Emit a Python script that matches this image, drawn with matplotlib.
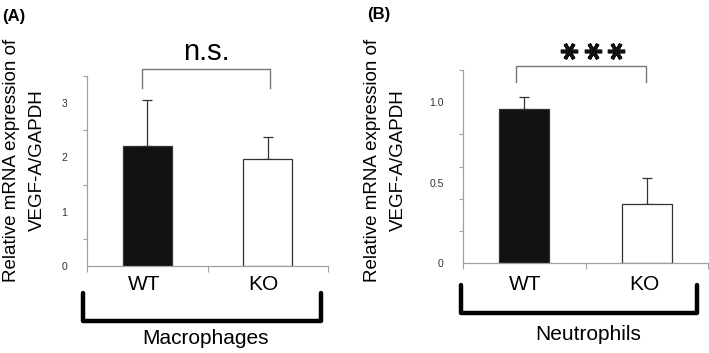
import matplotlib
matplotlib.use("Agg")
import matplotlib.pyplot as plt
import numpy as np

plt.rcParams['font.family'] = ['Liberation Sans', 'DejaVu Sans']

groups = ["WT", "KO"]
mac_means = [2.21, 1.97]
mac_err = [0.85, 0.41]
neu_means = [0.96, 0.37]
neu_err = [0.07, 0.16]
bar_colors = ["#111111", "#ffffff"]

W, H = 709, 353
fig = plt.figure(figsize=(W / 100, H / 100), dpi=100)

def fx(px):
    return px / W

def fy(py):
    return 1 - py / H

def make_ax(l, r, b, t):
    return fig.add_axes([fx(l), fy(b), fx(r) - fx(l), fy(t) - fy(b)])

axA = make_ax(87, 328, 265.7, 76.3)
axB = make_ax(463, 708, 263.3, 70)

spine_c = "#a0a0a0"

def style(ax, ymax, major, minor, labels):
    ax.set_xlim(-0.5, 1.5)
    ax.set_ylim(0, ymax)
    for s in ["top", "right"]:
        ax.spines[s].set_visible(False)
    for s in ["left", "bottom"]:
        ax.spines[s].set_color(spine_c)
        ax.spines[s].set_linewidth(0.9)
    ax.set_yticks(major)
    ax.set_yticklabels(labels)
    ax.set_yticks(minor, minor=True)
    ax.tick_params(axis="y", which="major", length=0, pad=14, labelsize=7.5, labelcolor="#333333")
    ax.tick_params(axis="y", which="minor", length=3, width=0.8, color=spine_c, direction="out")
    ax.set_xticks([-0.5, 0.5, 1.5])
    ax.set_xticklabels([])
    ax.tick_params(axis="x", length=4, width=0.8, color=spine_c, direction="out")

def bars(ax, means, errs):
    x = np.arange(len(means))
    ax.bar(x, means, width=0.41, color=bar_colors, edgecolor="#333333", linewidth=0.9, zorder=2)
    ax.errorbar(x, means, yerr=[np.zeros(len(errs)), errs], fmt="none", ecolor="#333333",
                elinewidth=0.9, capsize=3.5, capthick=0.9, zorder=1)

style(axA, 3.5, [0, 1, 2, 3], np.arange(0, 3.51, 0.5), ["0", "1", "2", "3"])
style(axB, 1.2, [0, 0.5, 1.0], np.arange(0, 1.21, 0.2), ["0", "0.5", "1.0"])
bars(axA, mac_means, mac_err)
bars(axB, neu_means, neu_err)

# significance brackets (data coords)
def bracket(ax, x0, x1, ylo, yhi):
    ax.plot([x0, x0, x1, x1], [ylo, yhi, yhi, ylo], color="#777777", lw=1.0,
            clip_on=False, solid_joinstyle="round")

bracket(axA, -0.04, 1.02, 3.285, 3.636)
axA.text(0.49, 3.94, "n.s.", ha="center", va="center", fontsize=21, clip_on=False)

bracket(axB, -0.065, 0.996, 1.127, 1.226)
star_x = [0.368, 0.564, 0.751]
axB.plot(star_x, [1.319] * 3, linestyle="none", marker=(6, 2, 90), markersize=12.5,
         markeredgewidth=2.6, color="#111111", clip_on=False)

# group labels
for ax, xs, y in [(axA, [144, 263], 285), (axB, [525, 644], 285)]:
    for g, x in zip(groups, xs):
        fig.text(fx(x), fy(y), g, ha="center", va="center", fontsize=15)

# big brackets
def big_bracket(l, r, t, b):
    fig.add_artist(plt.Line2D([fx(l), fx(l), fx(r), fx(r)], [fy(t), fy(b), fy(b), fy(t)],
                              transform=fig.transFigure, color="black", lw=3.2,
                              solid_joinstyle="round", solid_capstyle="round"))

big_bracket(83, 321, 293, 321)
big_bracket(461, 697, 285, 313)
fig.text(fx(205), fy(338), "Macrophages", ha="center", va="center", fontsize=15)
fig.text(fx(588), fy(335), "Neutrophils", ha="center", va="center", fontsize=15)

# y labels
for x1, x2 in [(12, 37), (373, 398)]:
    fig.text(fx(x1), fy(160), "Relative mRNA expression of", rotation=90, ha="center",
             va="center", fontsize=13.5)
    fig.text(fx(x2), fy(160), "VEGF-A/GAPDH", rotation=90, ha="center", va="center",
             fontsize=13.5)

fig.text(fx(2), fy(16), "(A)", ha="left", va="center", fontsize=12, fontweight="bold")
fig.text(fx(367), fy(14), "(B)", ha="left", va="center", fontsize=12, fontweight="bold")

fig.savefig("out.png", dpi=100, facecolor="white")
